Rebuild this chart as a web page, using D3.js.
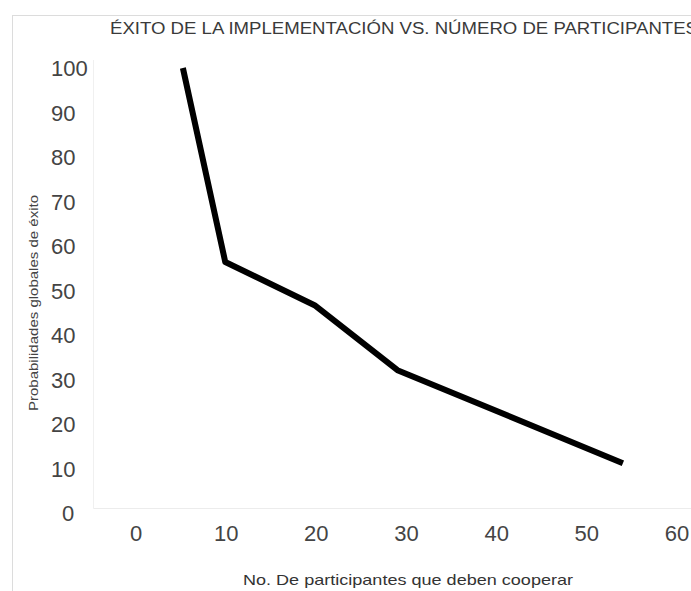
<!DOCTYPE html>
<html>
<head>
<meta charset="utf-8">
<script src="https://cdn.jsdelivr.net/npm/d3@7"></script>
<style>
  body { margin: 0; background: #fff; }
  svg { display: block; }
</style>
</head>
<body>
<div id="chart"></div>
<script>
const participants = [5.2, 9.9, 19.8, 29, 54];
const probability = [100, 56.4, 46.7, 32.1, 11.2];
const xTicks = [0, 10, 20, 30, 40, 50, 60];
const yTicks = [0, 10, 20, 30, 40, 50, 60, 70, 80, 90, 100];

const width = 691;
const height = 591;

const svg = d3.select("#chart")
  .append("svg")
  .attr("width", width)
  .attr("height", height);

// outer frame (cut by the picture edge)
svg.append("rect")
  .attr("x", 12.5)
  .attr("y", 15.5)
  .attr("width", width)
  .attr("height", height)
  .attr("fill", "none")
  .attr("stroke", "#dcdcdc");

const x = d3.scaleLinear().domain([0, 60]).range([136, 677]);
const y = d3.scaleLinear().domain([0, 100]).range([513, 68]);

// faint plot area edges
svg.append("line")
  .attr("x1", 93.5).attr("x2", 93.5)
  .attr("y1", 60).attr("y2", 508.5)
  .attr("stroke", "#f0f0f0");
svg.append("line")
  .attr("x1", 93.5).attr("x2", width)
  .attr("y1", 508.5).attr("y2", 508.5)
  .attr("stroke", "#ececec");

svg.append("text")
  .attr("x", 110)
  .attr("y", 34)
  .attr("font-family", "Liberation Sans, Arial, sans-serif")
  .attr("font-size", 16)
  .attr("textLength", 588)
  .attr("lengthAdjust", "spacingAndGlyphs")
  .attr("fill", "#3a3a3a")
  .text("ÉXITO DE LA IMPLEMENTACIÓN VS. NÚMERO DE PARTICIPANTES");

svg.append("g")
  .selectAll("text")
  .data(yTicks)
  .join("text")
  .attr("x", d => d === 0 ? 62 : 51)
  .attr("y", d => y(d) + 8)
  .attr("font-family", "Liberation Sans, Arial, sans-serif")
  .attr("font-size", 22)
  .attr("fill", "#444")
  .text(d => d);

svg.append("g")
  .selectAll("text")
  .data(xTicks)
  .join("text")
  .attr("x", d => x(d))
  .attr("y", 541)
  .attr("text-anchor", "middle")
  .attr("font-family", "Liberation Sans, Arial, sans-serif")
  .attr("font-size", 22)
  .attr("fill", "#444")
  .text(d => d);

svg.append("text")
  .attr("transform", `translate(38,${303}) rotate(-90)`)
  .attr("text-anchor", "middle")
  .attr("font-family", "Liberation Sans, Arial, sans-serif")
  .attr("font-size", 12)
  .attr("textLength", 216)
  .attr("lengthAdjust", "spacingAndGlyphs")
  .attr("fill", "#444")
  .text("Probabilidades globales de éxito");

svg.append("text")
  .attr("x", 408)
  .attr("y", 585)
  .attr("text-anchor", "middle")
  .attr("font-family", "Liberation Sans, Arial, sans-serif")
  .attr("font-size", 15)
  .attr("textLength", 330)
  .attr("lengthAdjust", "spacingAndGlyphs")
  .attr("fill", "#333")
  .text("No. De participantes que deben cooperar");

const line = d3.line()
  .x((d, i) => x(participants[i]))
  .y(d => y(d));

svg.append("path")
  .datum(probability)
  .attr("d", line)
  .attr("fill", "none")
  .attr("stroke", "#000")
  .attr("stroke-width", 6)
  .attr("stroke-linejoin", "round");
</script>
</body>
</html>
